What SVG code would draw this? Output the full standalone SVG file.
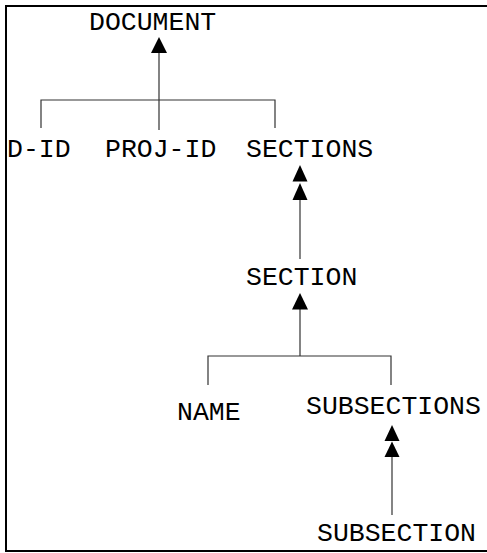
<svg xmlns="http://www.w3.org/2000/svg" width="487" height="553" viewBox="0 0 487 553">
<style>
.t{font-family:"Liberation Mono","Courier New",monospace;font-size:26.5px;fill:#000}
.l{stroke:#333;stroke-width:1.2;fill:none}
.h{fill:#000}
</style>
<rect x="0" y="0" width="487" height="553" fill="#fff"/>
<rect x="6" y="6" width="486" height="545" fill="none" stroke="#000" stroke-width="2"/>
<g id="connectors">
<path class="l" d="M159 52V130M41 128V100H275V128"/>
<polygon class="h" points="159,37 151,53 167,53"/>
<path class="l" d="M300 198V259"/>
<polygon class="h" points="300,165 292.5,181.5 307.5,181.5"/>
<polygon class="h" points="300,183 292.5,200 307.5,200"/>
<path class="l" d="M300 308V356M208 385V356H391V385"/>
<polygon class="h" points="300,293 292,309.5 308,309.5"/>
<path class="l" d="M392 455V515"/>
<polygon class="h" points="392,425 384.5,441 399.5,441"/>
<polygon class="h" points="392,441.5 384.5,457 399.5,457"/>
</g>
<g id="document"><text class="t" x="89" y="30">DOCUMENT</text></g>
<g id="d-id"><text class="t" x="7" y="157">D-ID</text></g>
<g id="proj-id"><text class="t" x="105" y="157">PROJ-ID</text></g>
<g id="sections"><text class="t" x="246" y="157">SECTIONS</text></g>
<g id="section"><text class="t" x="246" y="285">SECTION</text></g>
<g id="name"><text class="t" x="177" y="420">NAME</text></g>
<g id="subsections"><text class="t" x="306" y="414">SUBSECTIONS</text></g>
<g id="subsection"><text class="t" x="317" y="541">SUBSECTION</text></g>
</svg>
